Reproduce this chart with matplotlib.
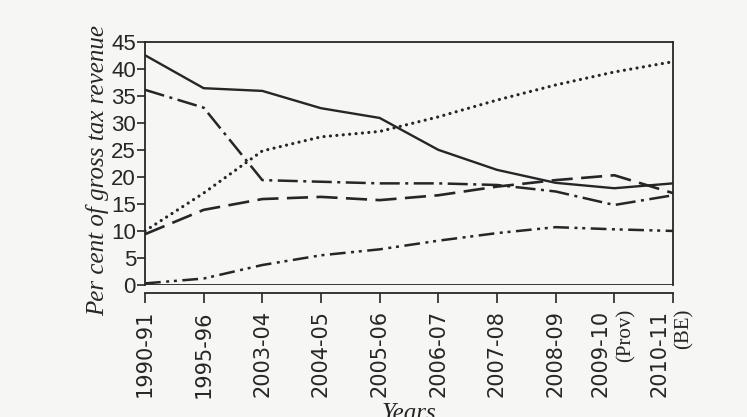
import matplotlib.pyplot as plt
import matplotlib.transforms as mtransforms

years = ['1990-91', '1995-96', '2003-04', '2004-05', '2005-06',
         '2006-07', '2007-08', '2008-09', '2009-10', '2010-11']
year_notes = {8: '(Prov)', 9: '(BE)'}

solid_vals = [42.5, 36.4, 35.9, 32.7, 30.9, 25.0, 21.3, 18.9, 17.9, 18.8]
dotted_vals = [10.0, 17.0, 24.8, 27.4, 28.4, 31.1, 34.2, 37.0, 39.4, 41.3]
dashdot_vals = [36.1, 32.8, 19.4, 19.1, 18.8, 18.8, 18.5, 17.3, 14.8, 16.6]
dashed_vals = [9.4, 13.9, 15.9, 16.3, 15.7, 16.6, 18.2, 19.4, 20.3, 17.0]
dashdotdot_vals = [0.3, 1.2, 3.7, 5.5, 6.6, 8.2, 9.6, 10.7, 10.3, 10.0]

ink = '#262626'
paper = '#f6f6f5'

fig = plt.figure(figsize=(7.47, 4.17), dpi=100, facecolor=paper)
ax = fig.add_axes([0.1941, 0.3165, 0.7068, 0.5835], facecolor=paper)

x = list(range(len(years)))
ax.plot(x, solid_vals, color=ink, lw=1.7, linestyle='-')
ax.plot(x, dotted_vals, color=ink, lw=2.3, linestyle=(0, (0.01, 2.0)),
        dash_capstyle='round')
ax.plot(x, dashdot_vals, color=ink, lw=1.8, linestyle=(0, (8, 2.2, 1.2, 2.2)))
ax.plot(x, dashed_vals, color=ink, lw=1.9, linestyle=(0, (8, 3.2)))
ax.plot(x, dashdotdot_vals, color=ink, lw=1.8,
        linestyle=(0, (6.3, 2.2, 1.2, 1.9, 1.2, 2.2)))

# box bottom, the x axis itself sits a little lower
ax.axhline(0, color=ink, lw=1.3)

ax.set_xlim(0, 9)
ax.set_ylim(0, 45)
ax.set_yticks(range(0, 46, 5))
ax.set_xticks(x)
ax.tick_params(axis='y', direction='out', length=5.5, width=1.2, pad=1,
               labelsize=16, color=ink, labelcolor=ink)
ax.tick_params(axis='x', direction='out', length=7.5, width=1.2, pad=5,
               labelsize=15, labelrotation=90, color=ink, labelcolor=ink)
ax.set_xticklabels(years)
for lab in ax.get_xticklabels() + ax.get_yticklabels():
    lab.set_family('Liberation Sans')

for s in ax.spines.values():
    s.set_linewidth(1.3)
    s.set_color(ink)
ax.spines['bottom'].set_position(('outward', 5.5))

# two-part labels: year on the left of the tick, note on the right
labels = ax.get_xticklabels()
trans = mtransforms.blended_transform_factory(ax.transData, ax.transAxes)
for i, note in year_notes.items():
    shift = mtransforms.ScaledTranslation(-0.135, 0, fig.dpi_scale_trans)
    labels[i].set_transform(labels[i].get_transform() + shift)
    ax.text(i, 0, note, rotation=90, ha='center', va='top',
            family='Liberation Serif', fontsize=15, color=ink,
            transform=trans + mtransforms.ScaledTranslation(0.115, -0.235, fig.dpi_scale_trans))

ax.text(-0.089, 0.47, 'Per cent of gross tax revenue', rotation=90,
        ha='center', va='center', transform=ax.transAxes,
        family='Liberation Serif', style='italic', fontsize=18, color=ink)
fig.text(0.548, 1 - 403 / 417, 'Years', ha='center', va='top',
         family='Liberation Serif', style='italic', fontsize=18, color=ink)

plt.savefig('out.png', dpi=100, facecolor=paper)
